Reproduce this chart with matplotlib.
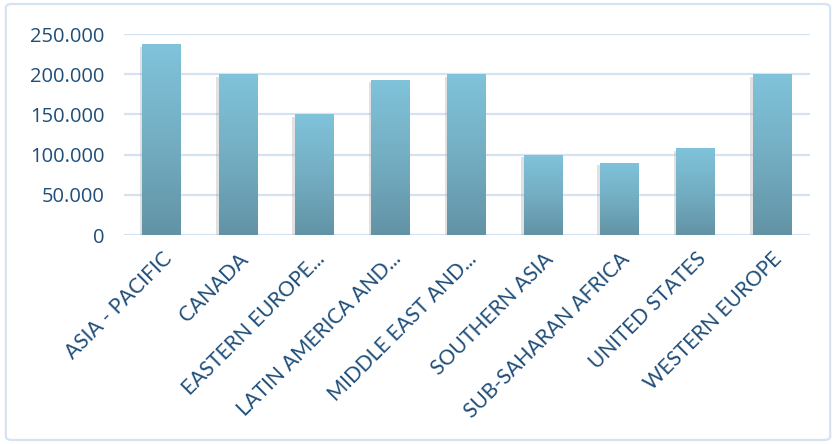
import numpy as np
import matplotlib
matplotlib.use('Agg')
import matplotlib.pyplot as plt
from matplotlib.patches import FancyBboxPatch
from matplotlib.colors import LinearSegmentedColormap
import matplotlib.transforms as mtransforms
from matplotlib.ticker import FuncFormatter

regions = ['ASIA - PACIFIC', 'CANADA', 'EASTERN EUROPE...', 'LATIN AMERICA AND...',
           'MIDDLE EAST AND...', 'SOUTHERN ASIA', 'SUB-SAHARAN AFRICA',
           'UNITED STATES', 'WESTERN EUROPE']
values = [237000, 200000, 150000, 193000, 200000, 100000, 90000, 108000, 200000]
yticks = [0, 50000, 100000, 150000, 200000, 250000]

plt.rcParams['font.family'] = ['Open Sans', 'DejaVu Sans']
txtcol = '#1f4e79'
gridcol = '#d5e2f1'

fig = plt.figure(figsize=(8.36, 4.44), dpi=100)
ax = fig.add_axes([0.148, 0.4707, 0.821, 0.4527])

# outer border
border = FancyBboxPatch((0.007, 0.009), 0.986, 0.982, boxstyle='round,pad=0,rounding_size=0.008',
                        transform=fig.transFigure, fill=False, edgecolor='#d6e4f2', linewidth=1.6)
fig.patches.append(border)

x = np.arange(len(regions))
width = 0.51

# shadow
shadow = mtransforms.offset_copy(ax.transData, fig=fig, x=-2.5, y=-2.5, units='dots')
ax.bar(x, values, width, color='#9e9e9e', alpha=0.3, transform=shadow, zorder=2)

bars = ax.bar(x, values, width, color='none', zorder=3)
cmap = LinearSegmentedColormap.from_list('g', ['#6293a5', '#74aec3', '#80c3da'])
grad = np.linspace(0, 1, 256).reshape(-1, 1)
for b in bars:
    im = ax.imshow(grad, cmap=cmap, aspect='auto', origin='lower',
                   extent=[b.get_x(), b.get_x() + b.get_width(), 0, b.get_height()], zorder=3)
    im.set_clip_path(b)

ax.set_xlim(-0.5, len(regions) - 0.5)
ax.set_ylim(0, 250000)
ax.set_yticks(yticks)
ax.yaxis.set_major_formatter(FuncFormatter(lambda v, p: '{:,.0f}'.format(v).replace(',', '.')))
ax.grid(axis='y', color=gridcol, linewidth=1.6)
ax.set_axisbelow(True)
for s in ax.spines.values():
    s.set_visible(False)
ax.tick_params(length=0)
ax.tick_params(axis='y', labelsize=14.5, labelcolor=txtcol, pad=14)
ax.set_xticks(x)
ax.set_xticklabels(regions, rotation=45, ha='right', rotation_mode='anchor',
                   fontsize=15, color=txtcol, family=['Lato', 'DejaVu Sans'])
ax.tick_params(axis='x', pad=10)

fig.savefig('out.png', dpi=100)
